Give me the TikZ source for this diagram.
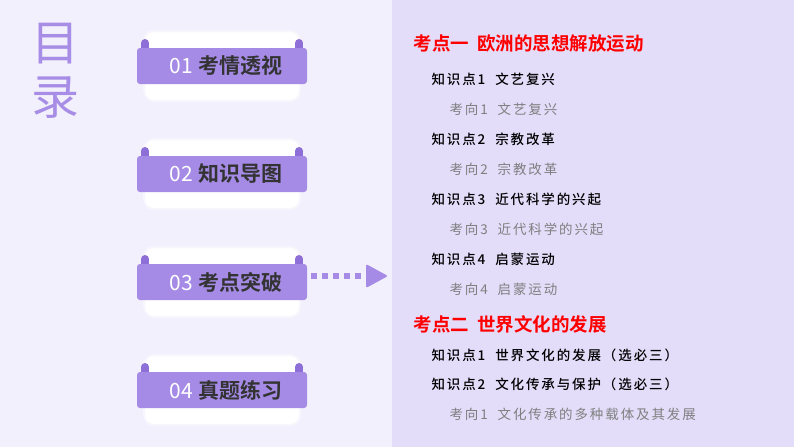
\documentclass[tikz,border=0pt]{standalone}
\usepackage{fontspec}
\setmainfont{Noto Sans CJK SC}
\newfontfamily\cjkb{Noto Sans CJK SC Bold}
\newfontfamily\cjkm[LetterSpace=14]{Noto Sans CJK SC Medium}
\newfontfamily\cjkr[LetterSpace=14]{Noto Sans CJK SC}
\definecolor{bgl}{HTML}{F1F0FC}
\definecolor{bgr}{HTML}{E3DDFA}
\definecolor{pur}{HTML}{A58BE6}
\definecolor{purd}{HTML}{8E6FD8}
\definecolor{mulu}{HTML}{A88DE6}
\definecolor{gry}{HTML}{7F7F7F}
\tikzset{
 back/.style={fill=white,draw=white!92!pur,line width=2pt,rounded corners=10pt,minimum width=156pt,minimum height=70pt},
 band/.style={fill=pur,rounded corners=3pt,minimum width=170pt,minimum height=36pt,inner sep=0pt},
 btxt/.style={font=\fontsize{21}{21}\selectfont,text=white},
 ttl/.style={anchor=west,text=red,font=\cjkb\fontsize{18.5}{18.5}\selectfont},
 kp/.style={anchor=west,font=\cjkm\fontsize{13.5}{13.5}\selectfont},
 kx/.style={anchor=west,text=gry,font=\cjkr\fontsize{13.5}{13.5}\selectfont}
}
\begin{document}
\begin{tikzpicture}[x=1pt,y=-1pt]
\fill[bgl] (0,0) rectangle (794,447);
\fill[bgr] (392,0) rectangle (794,447);
\useasboundingbox (0,0) rectangle (794,447);
\node[text=mulu,font=\fontsize{48}{48}\selectfont] (mu) at (55,44) {目};
\node[text=mulu,font=\fontsize{48}{48}\selectfont] (lu) at (55,98) {录};
\foreach \i/\y/\t in {1/66/考情透视,2/174/知识导图,3/282/考点突破,4/390/真题练习}{
 \node[back] (bk\i) at (222,\y) {};
 \fill[purd] (141,\y-23) rectangle (149,\y-10);
 \fill[purd] (295,\y-23) rectangle (303,\y-10);
 \fill[purd] (145,\y-23) circle (4); \fill[purd] (299,\y-23) circle (4);
 \node[band] (b\i) at (222,\y) {};
 \node[btxt] (t\i) at (226,\y) {0\i\ {\cjkb\color[HTML]{333333}\t}};
}
\coordinate (ae) at (388,276);
\draw[pur,line width=6pt,dash pattern=on 6pt off 5pt] (311,276) -- (368,276);
\fill[pur,rounded corners=2pt] (366,264) -- (ae) -- (366,288) -- cycle;
\node[ttl] (h1) at (410,44) {考点一\ \ 欧洲的思想解放运动};
\node[kp] (k1) at (428,79) {知识点1\ \ 文艺复兴};
\node[kx] (x1) at (446,109) {考向1\ \ 文艺复兴};
\node[kp] (k2) at (428,139) {知识点2\ \ 宗教改革};
\node[kx] (x2) at (446,169) {考向2\ \ 宗教改革};
\node[kp] (k3) at (428,199) {知识点3\ \ 近代科学的兴起};
\node[kx] (x3) at (446,229) {考向3\ \ 近代科学的兴起};
\node[kp] (k4) at (428,259) {知识点4\ \ 启蒙运动};
\node[kx] (x4) at (446,289) {考向4\ \ 启蒙运动};
\node[ttl] (h2) at (410,324) {考点二\ \ 世界文化的发展};
\node[kp] (k5) at (428,355) {知识点1\ \ 世界文化的发展（选必三）};
\node[kp] (k6) at (428,384) {知识点2\ \ 文化传承与保护（选必三）};
\node[kx] (x5) at (446,414) {考向1\ \ 文化传承的多种载体及其发展};
\end{tikzpicture}
\end{document}
